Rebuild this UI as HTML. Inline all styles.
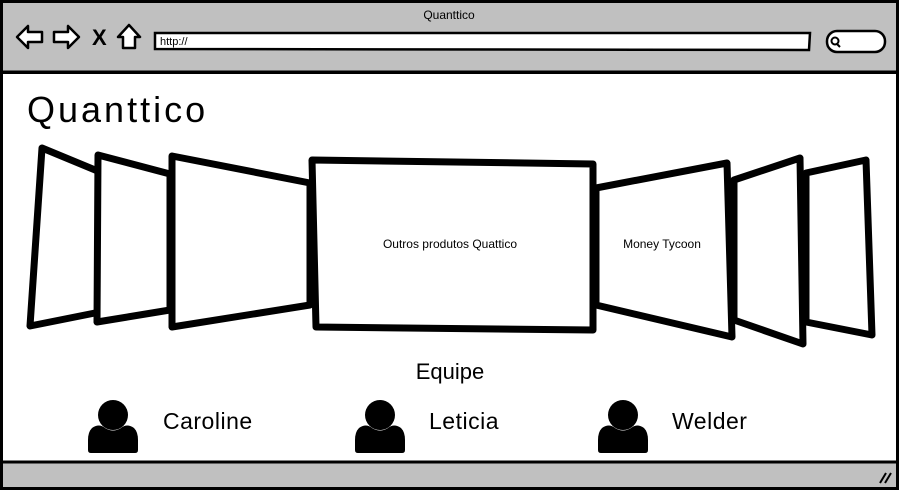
<!DOCTYPE html>
<html><head><meta charset="utf-8"><style>
html,body{margin:0;padding:0;background:#fff}
svg{display:block}
text{font-family:"Liberation Sans",sans-serif;fill:#000}
</style></head><body>
<svg width="899" height="490" viewBox="0 0 899 490" xmlns="http://www.w3.org/2000/svg">
<rect x="0" y="0" width="899" height="490" fill="#fff"/>
<rect x="1.5" y="1.5" width="896" height="71" fill="#c0c0c0" stroke="#000" stroke-width="3"/>
<line x1="0" y1="72" x2="899" y2="72" stroke="#000" stroke-width="3"/>
<text x="449" y="19" font-size="12" text-anchor="middle">Quanttico</text>
<path d="M17 37 L28 26 L28 32 L42 32 L42 42 L28 42 L28 48 Z" fill="#fff" stroke="#000" stroke-width="2.5" stroke-linejoin="round"/>
<path d="M79 37 L68 26 L68 32 L54 32 L54 42 L68 42 L68 48 Z" fill="#fff" stroke="#000" stroke-width="2.5" stroke-linejoin="round"/>
<text x="92" y="45" font-size="22" font-weight="bold">X</text>
<path d="M129 25 L140 37 L135 37 L135 48 L123 48 L123 37 L118 37 Z" fill="#fff" stroke="#000" stroke-width="2.5" stroke-linejoin="round"/>
<path d="M155 33 L810 33 L809 50 L155 49 Z" fill="#fff" stroke="#000" stroke-width="2.5"/>
<text x="160" y="45" font-size="11">http://</text>
<rect x="827" y="31" width="58" height="21" rx="10" fill="#fff" stroke="#000" stroke-width="2.5"/>
<circle cx="835" cy="41" r="3.5" fill="none" stroke="#000" stroke-width="2"/>
<line x1="837" y1="44" x2="840" y2="47" stroke="#000" stroke-width="2"/>
<line x1="1.5" y1="72" x2="1.5" y2="490" stroke="#000" stroke-width="3"/>
<line x1="897.5" y1="72" x2="897.5" y2="490" stroke="#000" stroke-width="3"/>
<text x="27" y="122" font-size="36" letter-spacing="3">Quanttico</text>
<g fill="#fff" stroke="#000" stroke-width="7" stroke-linejoin="round">
<path d="M42 148 L100 172 L100 312 L30 326 Z"/>
<path d="M98 155 L170 174 L170 310 L97 322 Z"/>
<path d="M172 156 L310 183 L310 305 L172 327 Z"/>
<path d="M866 160 L872 335 L806 322 L806 173 Z"/>
<path d="M800 158 L803 344 L734 320 L734 180 Z"/>
<path d="M727 163 L732 337 L596 305 L596 188 Z"/>
<path d="M312 160 L593 164 L593 330 L316 327 Z"/>
</g>
<text x="450" y="248" font-size="12" text-anchor="middle">Outros produtos Quattico</text>
<text x="662" y="248" font-size="12" text-anchor="middle">Money Tycoon</text>
<text x="450" y="379" font-size="22" text-anchor="middle">Equipe</text>
<g fill="#000">
<g transform="translate(87,0)">
<circle cx="26" cy="415" r="15"/>
<path d="M5 428 Q12 423 18 428 Q26 433 34 428 Q40 423 47 428 Q51 432 51 440 L51 450 Q51 453 48 453 L4 453 Q1 453 1 450 L1 440 Q1 432 5 428 Z"/>
</g>
<g transform="translate(354,0)">
<circle cx="26" cy="415" r="15"/>
<path d="M5 428 Q12 423 18 428 Q26 433 34 428 Q40 423 47 428 Q51 432 51 440 L51 450 Q51 453 48 453 L4 453 Q1 453 1 450 L1 440 Q1 432 5 428 Z"/>
</g>
<g transform="translate(597,0)">
<circle cx="26" cy="415" r="15"/>
<path d="M5 428 Q12 423 18 428 Q26 433 34 428 Q40 423 47 428 Q51 432 51 440 L51 450 Q51 453 48 453 L4 453 Q1 453 1 450 L1 440 Q1 432 5 428 Z"/>
</g>
</g>
<text x="163" y="429" font-size="23" letter-spacing="0.5">Caroline</text>
<text x="429" y="429" font-size="23" letter-spacing="0.5">Leticia</text>
<text x="672" y="429" font-size="23" letter-spacing="0.5">Welder</text>
<rect x="1.5" y="462" width="896" height="26.5" fill="#c0c0c0" stroke="#000" stroke-width="3"/>
<line x1="880" y1="483" x2="886" y2="473" stroke="#000" stroke-width="2"/>
<line x1="885" y1="483" x2="891" y2="473" stroke="#000" stroke-width="2"/>
</svg>
</body></html>
